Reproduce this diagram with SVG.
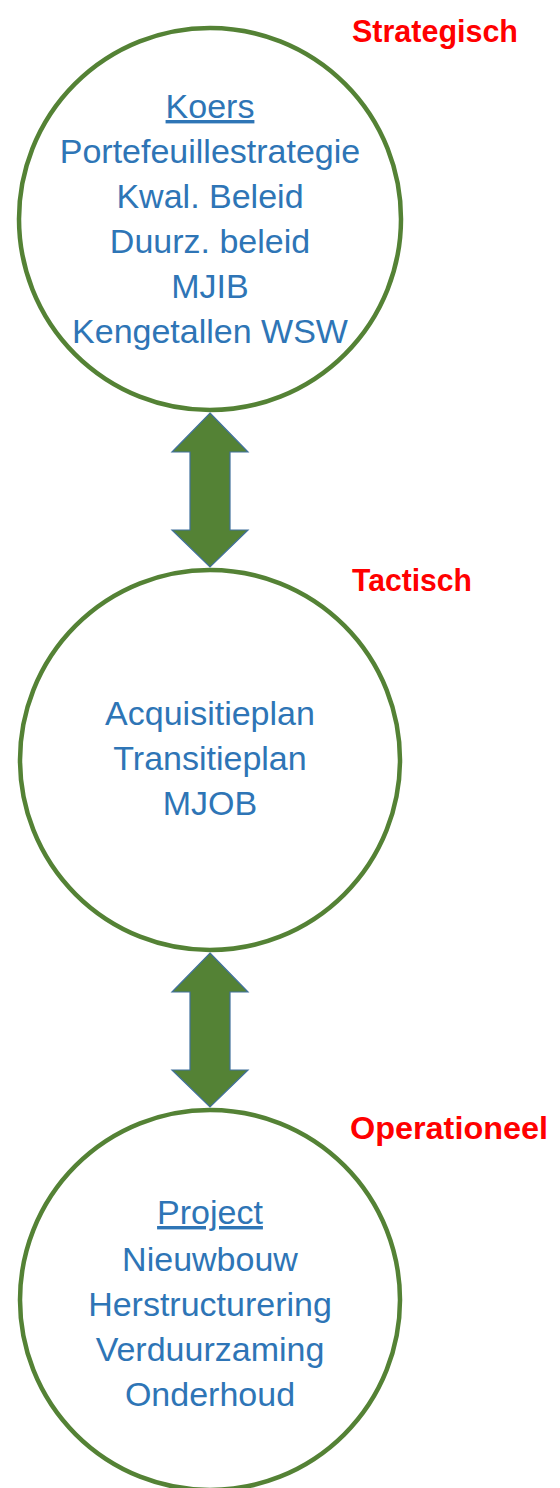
<svg xmlns="http://www.w3.org/2000/svg" width="560" height="1488" viewBox="0 0 560 1488">
<style>
.ring{fill:#ffffff;stroke:#548235;stroke-width:4.5}
.t{font-family:"Liberation Sans",Arial,sans-serif;font-size:34px;fill:#2E75B6;text-anchor:middle}
.u{text-decoration:underline}
.lvl{font-family:"Liberation Sans",Arial,sans-serif;font-size:31px;font-weight:bold;fill:#FF0000}
.arr{fill:#548235;stroke:#41719C;stroke-width:1.2;stroke-linejoin:miter}
</style>
<rect width="560" height="1488" fill="#ffffff"/>
<g id="node-strategisch">
<circle class="ring" cx="210" cy="219" r="191"/>
<text class="t u" x="210" y="118">Koers</text>
<text class="t" x="210" y="163">Portefeuillestrategie</text>
<text class="t" x="210" y="208">Kwal. Beleid</text>
<text class="t" x="210" y="253">Duurz. beleid</text>
<text class="t" x="210" y="298">MJIB</text>
<text class="t" x="210" y="343">Kengetallen WSW</text>
</g>
<g id="node-tactisch">
<circle class="ring" cx="210" cy="760" r="190"/>
<text class="t" x="210" y="725">Acquisitieplan</text>
<text class="t" x="210" y="770">Transitieplan</text>
<text class="t" x="210" y="815">MJOB</text>
</g>
<g id="node-operationeel">
<circle class="ring" cx="210" cy="1300" r="190"/>
<text class="t u" x="210" y="1224">Project</text>
<text class="t" x="210" y="1271">Nieuwbouw</text>
<text class="t" x="210" y="1316">Herstructurering</text>
<text class="t" x="210" y="1361">Verduurzaming</text>
<text class="t" x="210" y="1406">Onderhoud</text>
</g>
<g id="labels">
<text class="lvl" x="352" y="42" textLength="166" lengthAdjust="spacingAndGlyphs">Strategisch</text>
<text class="lvl" x="352" y="591" textLength="120" lengthAdjust="spacingAndGlyphs">Tactisch</text>
<text class="lvl" x="350" y="1139" textLength="198" lengthAdjust="spacingAndGlyphs">Operationeel</text>
</g>
<g id="connectors">
<polygon class="arr" points="210,413 248,452 230,452 230,530 248,530 210,567 172,530 190,530 190,452 172,452"/>
<polygon class="arr" points="210,953 248,992 230,992 230,1070 248,1070 210,1107 172,1070 190,1070 190,992 172,992"/>
</g>
</svg>
